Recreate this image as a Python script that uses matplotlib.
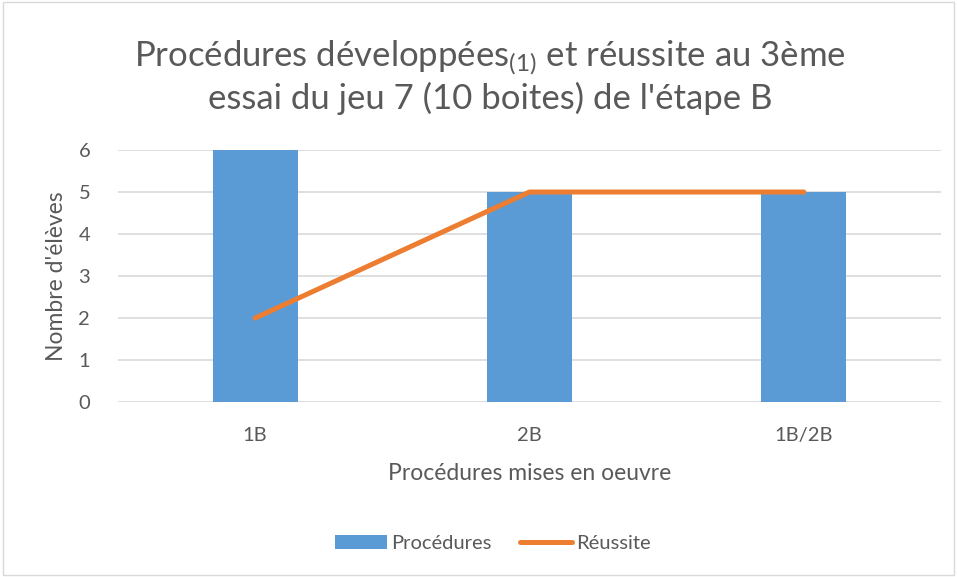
import matplotlib.pyplot as plt
import matplotlib.patches as mpatches
import numpy as np

plt.rcParams['font.family'] = ['Lato', 'DejaVu Sans']
plt.rcParams['mathtext.default'] = 'regular'

categories = ['1B', '2B', '1B/2B']
procedures = [6, 5, 5]
reussite = [2, 5, 5]

txt = '#595959'
fig = plt.figure(figsize=(9.57, 5.77), dpi=100)
ax = fig.add_axes([0.1233, 0.3033, 0.86, 0.4367])

x = np.arange(len(categories))
bars = ax.bar(x, procedures, width=0.31, color='#5b9bd5', label='Procédures', zorder=2)
line, = ax.plot(x, reussite, color='#ed7d31', lw=3.6, solid_capstyle='round', label='Réussite', zorder=3)

ax.set_xlim(-0.5, 2.5)
ax.set_ylim(0, 6)
ax.set_yticks(range(7))
ax.set_xticks(x)
ax.set_xticklabels(categories)
ax.grid(axis='y', color='#d9d9d9', lw=1.2, zorder=0)
for s in ax.spines.values():
    s.set_visible(False)
ax.tick_params(length=0, labelsize=14.5, colors=txt)
ax.tick_params(axis='x', pad=18)
ax.tick_params(axis='y', pad=20)
ax.set_xlabel('Procédures mises en oeuvre', fontsize=16.5, color=txt, labelpad=14)
ax.set_ylabel("Nombre d'élèves", fontsize=16.5, color=txt, labelpad=8)

fig.text(0.512, 0.866, "Procédures développées$_{(1)}$ et réussite au 3ème\nessai du jeu 7 (10 boites) de l'étape B",
         ha='center', va='center', fontsize=25, color=txt, linespacing=1.18)

fig.legend([bars, line], ['Procédures', 'Réussite'], loc='center', bbox_to_anchor=(0.515, 0.058),
           ncol=2, frameon=False, fontsize=14.5, labelcolor=txt, handlelength=2.6,
           columnspacing=1.4, handletextpad=0.2)

fig.patches.append(mpatches.Rectangle((0.003, 0.003), 0.994, 0.994, transform=fig.transFigure,
                                      fill=False, edgecolor='#d9d9d9', lw=1))

fig.savefig('out.png', dpi=100)
